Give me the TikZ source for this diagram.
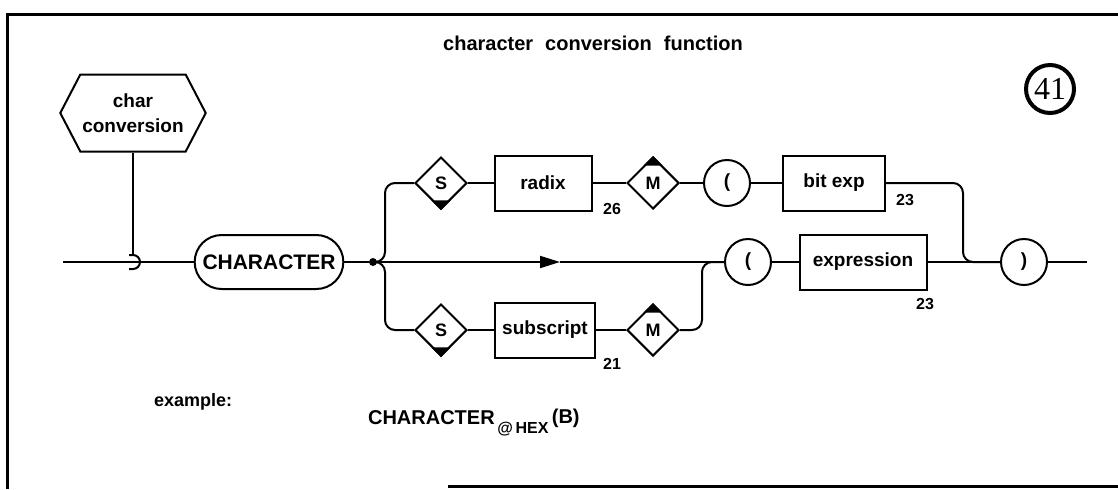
\documentclass[tikz,border=0pt]{standalone}
\usepackage{fontspec}
\setmainfont{Liberation Sans}
\newfontfamily\numfont{Liberation Serif}
\usetikzlibrary{positioning,arrows.meta,calc,shapes.geometric,shapes.misc,shapes.symbols}

\begin{document}
\begin{tikzpicture}[
  x=0.5pt, y=-0.5pt,
  conn/.style={line width=1pt},
  box/.style={draw, line width=1pt, minimum height=27.5pt, inner sep=1pt,
    font=\fontsize{9.5}{11}\selectfont\bfseries},
  sel/.style={draw, diamond, line width=1pt, minimum size=26pt, inner sep=0pt,
    font=\fontsize{9}{10}\selectfont\bfseries},
  term/.style={draw, circle, line width=1pt, minimum size=23pt, inner sep=0pt,
    font=\fontsize{9.5}{11}\selectfont\bfseries},
  hexa/.style={draw, line width=1pt, signal, signal to=east and west,
    signal pointer angle=125, minimum width=72pt, minimum height=38.5pt,
    inner sep=1pt, align=center, font=\fontsize{9.5}{12.5}\selectfont\bfseries},
  stadium/.style={draw, rounded rectangle, line width=1pt, minimum width=81pt,
    minimum height=27pt, font=\fontsize{10.5}{12}\selectfont\bfseries},
  ref/.style={font=\fontsize{8}{9}\selectfont\bfseries}
]
\useasboundingbox (0,0) rectangle (1118,489);

% --- frame
\draw[line width=1.5pt] (1118,14) -- (7,14) -- (7,489);
\draw[line width=1.5pt] (448,486) -- (1118,486);

% --- title and page number
\node[font=\fontsize{10}{12}\selectfont\bfseries] (title) at (593,43)
  {character\hspace{6pt}conversion\hspace{6pt}function};
\node[draw, circle, line width=2pt, minimum size=24pt, inner sep=0pt,
  font=\numfont\fontsize{16}{16}\selectfont] (page) at (1050,89) {41};

% --- nodes
\node[hexa] (conv) at (133,113) {char\\conversion};
\node[stadium] (char) at (269,262) {CHARACTER};
\node[circle, fill, inner sep=0pt, minimum size=4pt] (dot) at (373,262) {};

\node[sel] (sT) at (441,183) {S};
\node[box, minimum width=48.5pt] (radix) at (543,183) {radix};
\node[sel] (mT) at (653,183) {M};
\node[term] (lpT) at (727,183) {(};
\node[box, minimum width=51pt] (bitexp) at (834,183) {bit exp};

\node[sel] (sB) at (441,330) {S};
\node[box, minimum width=50pt] (subscr) at (545,330) {subscript};
\node[sel] (mB) at (653,330) {M};

\node[term] (lpM) at (748,262) {(};
\node[box, minimum width=63.5pt] (expr) at (863,262) {expression};
\node[term] (rp) at (1024,262) {)};

% --- reference numbers
\node[ref] (n26) at (612,209) {26};
\node[ref] (n23a) at (905,200) {23};
\node[ref] (n23b) at (925,304) {23};
\node[ref] (n21) at (612,364) {21};

% --- free ends and bends
\coordinate (entry) at (63,262);
\coordinate (hook) at (133,255);
\coordinate (fork) at (385,262);
\coordinate (flow) at (560,262);
\coordinate (joinB) at (702,262);
\coordinate (joinT) at (963,262);
\coordinate (exit) at (1087,262);

% --- connectors
\draw[conn] (conv.south) -- (hook);
\draw[conn] ($(hook)+(-4,0)$) -- (hook) arc[start angle=90, end angle=-90, radius=3.5pt] -- ++(-4,0);
\draw[conn] (entry) -- (char.west);
\draw[conn] (char.east) -- (dot) -- (fork);
\draw[conn, -{Triangle[length=10pt,width=6pt]}] (fork) -- (flow);
\draw[conn] (flow) -- (lpM.west);
\draw[conn, rounded corners=5pt] (dot) -- (fork) |- (sT.west);
\draw[conn, rounded corners=5pt] (dot) -- (fork) |- (sB.west);
\draw[conn] (sT) -- (radix) -- (mT) -- (lpT) -- (bitexp);
\draw[conn, rounded corners=5pt] (bitexp.east) -| (joinT) -- (rp.west);
\draw[conn] (sB) -- (subscr) -- (mB);
\draw[conn, rounded corners=5pt] (mB.east) -| (joinB) -- (lpM.west);
\draw[conn] (lpM) -- (expr) -- (rp);
\draw[conn] (rp.east) -- (exit);

% --- black corners of the selectors
\foreach \d/\a in {sT/south, sB/south, mT/north, mB/north}
  \fill ($(\d.\a)!0.36!(\d.east)$) -- (\d.\a) -- ($(\d.\a)!0.36!(\d.west)$) -- cycle;

% --- example
\node[anchor=west, font=\fontsize{9}{10}\selectfont\bfseries] (exlabel) at (147,402) {example:};
\node[anchor=west, font=\fontsize{10}{12}\selectfont\bfseries] (extext) at (361,423)
  {CHARACTER\raisebox{-4.5pt}{\fontsize{8}{9}\selectfont\,@\,HEX}\,\raisebox{0.5pt}{(B)}};

\end{tikzpicture}
\end{document}
